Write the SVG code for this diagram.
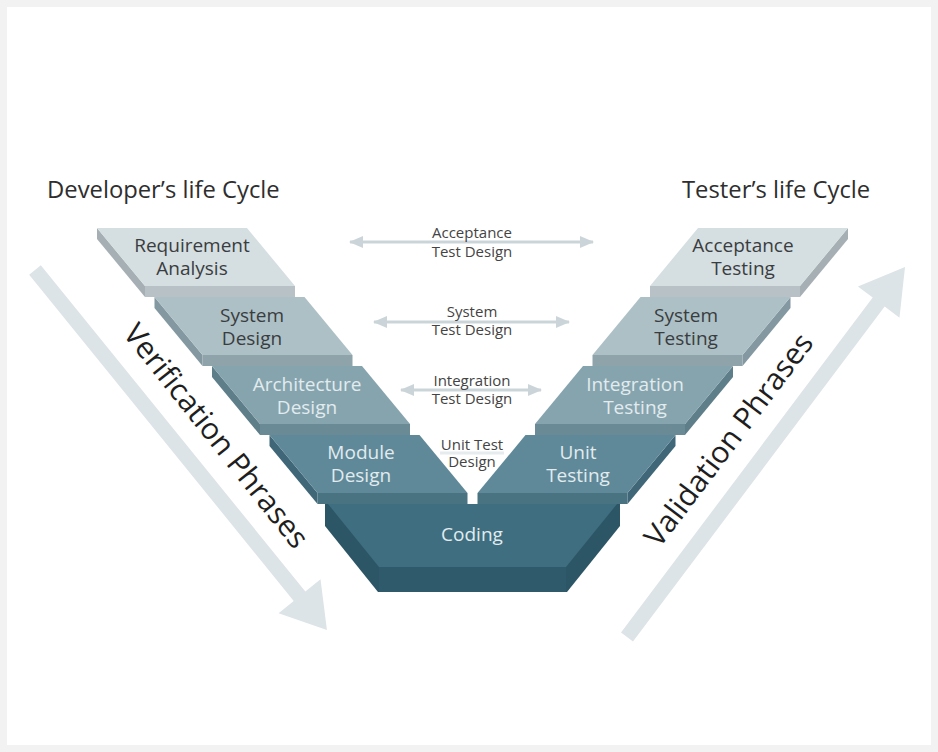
<svg xmlns="http://www.w3.org/2000/svg" width="938" height="752" viewBox="0 0 938 752">
<defs>
<style>
text{font-family:"Open Sans","Noto Sans","DejaVu Sans",sans-serif}
.title{font-size:23.8px;fill:#2e2e2e}
.bl{font-size:19px;text-anchor:middle}
.dk{fill:#3a3d3f}
.lt{fill:#e2ebee}
.cl{font-size:15px;text-anchor:middle;fill:#444}
.ph{font-size:30px;text-anchor:middle;fill:#1e1e1e}
.c0t{fill:#d5dee1}.c0f{fill:#b8c1c5}.c0s{fill:#a6afb3}
.c1t{fill:#adc0c6}.c1f{fill:#8fa3aa}.c1s{fill:#8398a0}
.c2t{fill:#86a4ae}.c2f{fill:#6a8a95}.c2s{fill:#5e7e89}
.c3t{fill:#5f8999}.c3f{fill:#4a7382}.c3s{fill:#3f6778}
.big{fill:#dce4e7}
.dbl{stroke:#cbd5d9;stroke-width:3;fill:none;marker-start:url(#ah);marker-end:url(#ah)}
</style>
<marker id="ah" viewBox="0 0 14 12" refX="13" refY="6" markerWidth="14" markerHeight="12" markerUnits="userSpaceOnUse" orient="auto-start-reverse">
<path d="M0,0 L14,6 L0,12 Z" fill="#cbd5d9"/>
</marker>
</defs>
<rect x="0" y="0" width="938" height="752" fill="#f2f2f2"/>
<rect x="7" y="7" width="924" height="738" fill="#ffffff"/>

<g id="phase-arrows">
<polygon class="big" transform="translate(35,270) rotate(50.96)" points="0,-7.5 420,-7.5 420,-27 463.5,0 420,27 420,7.5 0,7.5"/>
<polygon class="big" transform="translate(627,637) rotate(-53.08)" points="0,-7.5 419,-7.5 419,-26 462.8,0 419,26 419,7.5 0,7.5"/>
<text class="ph" transform="translate(216,436) rotate(51.5)" x="0" y="10">Verification Phrases</text>
<text class="ph" transform="translate(729,440) rotate(-53)" x="0" y="10">Validation Phrases</text>
</g>

<g id="titles">
<text class="title" x="47" y="198">Developer’s life Cycle</text>
<text class="title" x="682" y="198">Tester’s life Cycle</text>
</g>

<g id="coding">
<polygon fill="#2c5666" points="325,504 620,504 620,526 567,592 378,592 325,526"/>
<polygon fill="#3e6e80" points="328,504 617,504 566,567 379,567"/>
<polygon fill="#2f5a6b" points="379,567 566,567 566,592 379,592"/>
<text class="bl lt" x="472" y="541">Coding</text>
</g>

<g id="requirement-analysis">
<polygon class="c0s" points="97,228 145,286 145,297 97,239"/>
<polygon class="c0f" points="145,286 295,286 295,297 145,297"/>
<polygon class="c0t" points="97,228 247,228 295,286 145,286"/>
<text class="bl dk" x="192" y="252">Requirement<tspan x="192" dy="23">Analysis</tspan></text>
</g>

<g id="system-design">
<polygon class="c1s" points="154.5,297 202.5,355 202.5,366 154.5,308"/>
<polygon class="c1f" points="202.5,355 352.5,355 352.5,366 202.5,366"/>
<polygon class="c1t" points="154.5,297 304.5,297 352.5,355 202.5,355"/>
<text class="bl dk" x="252" y="322">System<tspan x="252" dy="23">Design</tspan></text>
</g>

<g id="architecture-design">
<polygon class="c2s" points="212,366 260,424 260,435 212,377"/>
<polygon class="c2f" points="260,424 410,424 410,435 260,435"/>
<polygon class="c2t" points="212,366 362,366 410,424 260,424"/>
<text class="bl lt" x="307" y="391">Architecture<tspan x="307" dy="23">Design</tspan></text>
</g>

<g id="module-design">
<polygon class="c3s" points="269.5,435 317.5,493 317.5,504 269.5,446"/>
<polygon class="c3f" points="317.5,493 467.5,493 467.5,504 317.5,504"/>
<polygon class="c3t" points="269.5,435 419.5,435 467.5,493 317.5,493"/>
<text class="bl lt" x="361" y="459">Module<tspan x="361" dy="23">Design</tspan></text>
</g>

<g id="acceptance-testing">
<polygon class="c0s" points="848,228 800,286 800,297 848,239"/>
<polygon class="c0f" points="800,286 650,286 650,297 800,297"/>
<polygon class="c0t" points="848,228 698,228 650,286 800,286"/>
<text class="bl dk" x="743" y="252">Acceptance<tspan x="743" dy="23">Testing</tspan></text>
</g>

<g id="system-testing">
<polygon class="c1s" points="790.5,297 742.5,355 742.5,366 790.5,308"/>
<polygon class="c1f" points="742.5,355 592.5,355 592.5,366 742.5,366"/>
<polygon class="c1t" points="790.5,297 640.5,297 592.5,355 742.5,355"/>
<text class="bl dk" x="686" y="322">System<tspan x="686" dy="23">Testing</tspan></text>
</g>

<g id="integration-testing">
<polygon class="c2s" points="733,366 685,424 685,435 733,377"/>
<polygon class="c2f" points="685,424 535,424 535,435 685,435"/>
<polygon class="c2t" points="733,366 583,366 535,424 685,424"/>
<text class="bl lt" x="635" y="391">Integration<tspan x="635" dy="23">Testing</tspan></text>
</g>

<g id="unit-testing">
<polygon class="c3s" points="675.5,435 627.5,493 627.5,504 675.5,446"/>
<polygon class="c3f" points="627.5,493 477.5,493 477.5,504 627.5,504"/>
<polygon class="c3t" points="675.5,435 525.5,435 477.5,493 627.5,493"/>
<text class="bl lt" x="578" y="459">Unit<tspan x="578" dy="23">Testing</tspan></text>
</g>

<g id="connectors">
<line class="dbl" x1="350" y1="242" x2="593" y2="242"/>
<line class="dbl" x1="374" y1="322" x2="569" y2="322"/>
<line class="dbl" x1="401" y1="390" x2="541" y2="390"/>
<line x1="440" y1="453" x2="504" y2="453" stroke="#e6ecee" stroke-width="3"/>
</g>

<g id="connector-labels">
<text class="cl" x="472" y="238">Acceptance<tspan x="472" dy="19">Test Design</tspan></text>
<text class="cl" x="472" y="317">System<tspan x="472" dy="18">Test Design</tspan></text>
<text class="cl" x="472" y="386">Integration<tspan x="472" dy="18">Test Design</tspan></text>
<text class="cl" x="472" y="450">Unit Test<tspan x="472" dy="17">Design</tspan></text>
</g>
</svg>
